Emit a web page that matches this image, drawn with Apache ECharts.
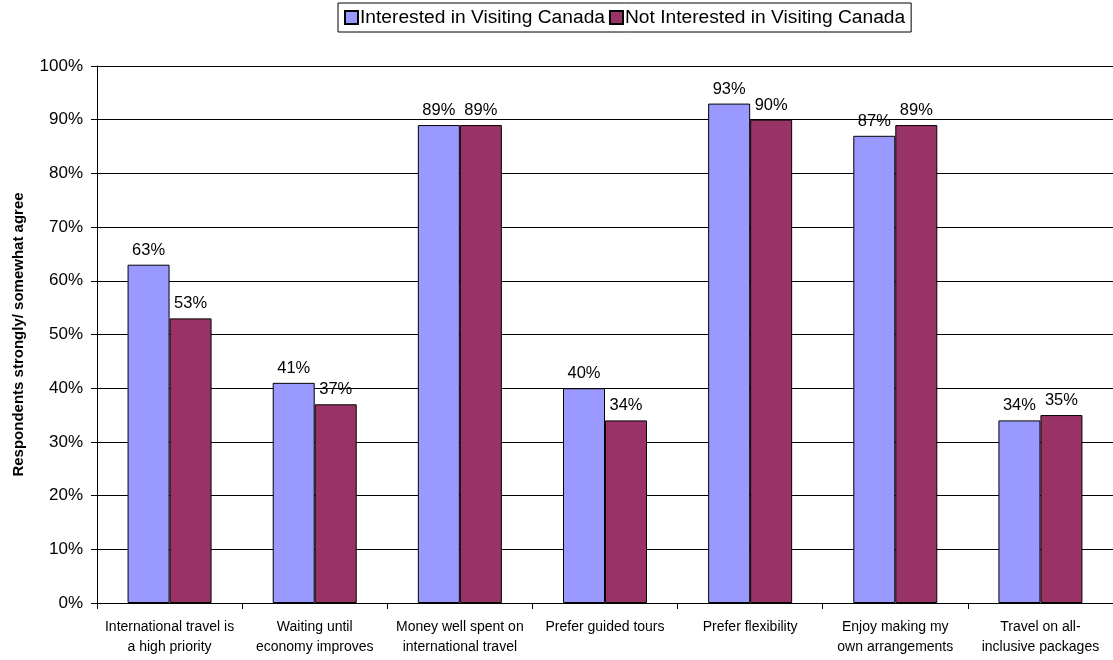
<!DOCTYPE html>
<html><head><meta charset="utf-8">
<script src="https://cdn.jsdelivr.net/npm/echarts@6/dist/echarts.min.js"></script>
<style>html,body{margin:0;padding:0;background:#fff}#c{width:1113px;height:660px}</style>
</head><body><div id="c"></div>
<script>
const categories = ["International travel is\na high priority","Waiting until\neconomy improves","Money well spent on\ninternational travel","Prefer guided tours","Prefer flexibility","Enjoy making my\nown arrangements","Travel on all-\ninclusive packages"];
const interested = [63,41,89,40,93,87,34];
const notInterested = [53,37,89,34,90,89,35];
const yTicks = [0,10,20,30,40,50,60,70,80,90,100];
const seriesNames = ["Interested in Visiting Canada","Not Interested in Visiting Canada"];

const chart = echarts.init(document.getElementById('c'));
const font = "Liberation Sans, Arial, sans-serif";
const label = {show:true, position:'top', formatter:'{c}%', color:'#000', fontFamily:font, fontSize:16.5, distance:6};
chart.setOption({
  animation:false,
  textStyle:{fontFamily:font},
  legend:{top:3, left:338, itemWidth:13, itemHeight:13, itemGap:4,
    borderColor:'#000', borderWidth:1, padding:[5,6,5,6], borderRadius:0,
    textStyle:{fontSize:19.2, color:'#000', fontFamily:font, padding:[0,0,0,-3]},
    data:seriesNames.map(n=>({name:n, icon:'rect'}))},
  grid:{left:97, right:0, top:66, bottom:57, containLabel:false, outerBoundsMode:'none'},
  xAxis:{type:'category', data:categories,
    axisLine:{lineStyle:{color:'#000'}},
    axisTick:{show:true, length:6, lineStyle:{color:'#000'}},
    axisLabel:{color:'#000', fontSize:14, fontFamily:font, margin:14, lineHeight:20, interval:0}},
  yAxis:{type:'value', min:0, max:100, interval:10,
    name:'Respondents strongly/ somewhat agree', nameLocation:'middle', nameGap:71, nameRotate:90,
    nameTextStyle:{fontWeight:'bold', fontSize:15, color:'#000', fontFamily:font},
    axisLine:{show:true, lineStyle:{color:'#000'}},
    axisTick:{show:true, length:6, lineStyle:{color:'#000'}},
    axisLabel:{formatter:v=>yTicks.includes(v)?v+'%':'', color:'#000', fontSize:17, fontFamily:font, margin:14},
    splitLine:{lineStyle:{color:'#000', width:1}}},
  series:[
    {name:seriesNames[0], type:'bar', data:interested, barWidth:42, barGap:'0%',
     itemStyle:{color:'#9999FF', borderColor:'#000', borderWidth:1}, label:label},
    {name:seriesNames[1], type:'bar', data:notInterested, barWidth:42,
     itemStyle:{color:'#993366', borderColor:'#000', borderWidth:1}, label:label}
  ]
});
</script></body></html>
